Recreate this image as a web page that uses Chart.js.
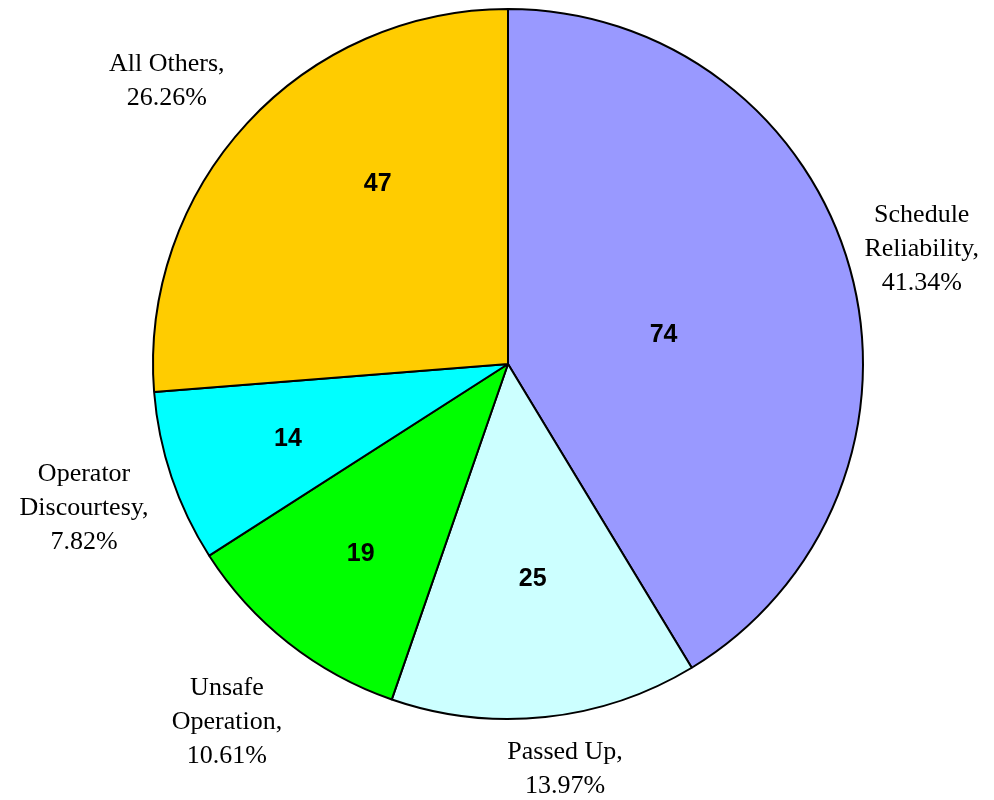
<!DOCTYPE html>
<html>
<head>
<meta charset="utf-8">
<script src="https://cdn.jsdelivr.net/npm/chart.js@4"></script>
<style>
  body { margin: 0; background: #fff; }
  #wrap { width: 994px; height: 800px; }
</style>
</head>
<body>
<div id="wrap"><canvas id="pieChart" width="994" height="800"></canvas></div>
<script>
// --- DATA ---
const categories = ["Schedule Reliability", "Passed Up", "Unsafe Operation", "Operator Discourtesy", "All Others"];
const counts = [74, 25, 19, 14, 47];
const percentLabels = ["41.34%", "13.97%", "10.61%", "7.82%", "26.26%"];
// how the outside label text breaks into lines
const outsideLines = [
  ["Schedule", "Reliability,"],
  ["Passed Up,"],
  ["Unsafe", "Operation,"],
  ["Operator", "Discourtesy,"],
  ["All Others,"]
];
const sliceColors = ['#9999ff', '#ccffff', '#00ff00', '#00ffff', '#ffcc00'];

// label placement, as fractions of the pie radius
const innerRadiusFrac = [0.44, 0.61, 0.68, 0.66, 0.63];
const innerAngleShift = [5, 0, 0, 0, 11];   // degrees
const outerRadiusFrac = [1.21, 1.15, 1.28, 1.26, 1.25];
const outerAngleShift = [0, -2, 0, 0, -3];

// draws the value inside and the name + percent outside each slice
const sliceLabels = {
  id: 'sliceLabels',
  afterDatasetsDraw(chart) {
    const ctx = chart.ctx;
    const arcs = chart.getDatasetMeta(0).data;
    ctx.save();
    ctx.textAlign = 'center';
    ctx.textBaseline = 'middle';
    ctx.fillStyle = '#000';
    arcs.forEach((arc, i) => {
      const mid = (arc.startAngle + arc.endAngle) / 2;
      const r = arc.outerRadius;

      let a = mid + innerAngleShift[i] * Math.PI / 180;
      ctx.font = 'bold 25px "Liberation Sans", Arial, sans-serif';
      ctx.fillText(String(counts[i]), arc.x + Math.cos(a) * r * innerRadiusFrac[i] + 2, arc.y + Math.sin(a) * r * innerRadiusFrac[i]);

      a = mid + outerAngleShift[i] * Math.PI / 180;
      const cx = arc.x + Math.cos(a) * r * outerRadiusFrac[i];
      const cy = arc.y + Math.sin(a) * r * outerRadiusFrac[i];
      const lines = outsideLines[i].concat([percentLabels[i]]);
      const lh = 34;
      ctx.font = '26px "Liberation Serif", serif';
      lines.forEach((t, k) => {
        ctx.fillText(t, cx, cy + 1 + (k - (lines.length - 1) / 2) * lh);
      });
    });
    ctx.restore();
  }
};

new Chart(document.getElementById('pieChart'), {
  type: 'pie',
  data: {
    labels: categories,
    datasets: [{
      data: counts,
      backgroundColor: sliceColors,
      borderColor: '#000',
      borderWidth: 2,
      borderAlign: 'center'
    }]
  },
  options: {
    responsive: false,
    animation: false,
    layout: { padding: { left: 152, right: 130, top: 8, bottom: 80 } },
    plugins: {
      legend: { display: false },
      tooltip: { enabled: false }
    }
  },
  plugins: [sliceLabels]
});
</script>
</body>
</html>
